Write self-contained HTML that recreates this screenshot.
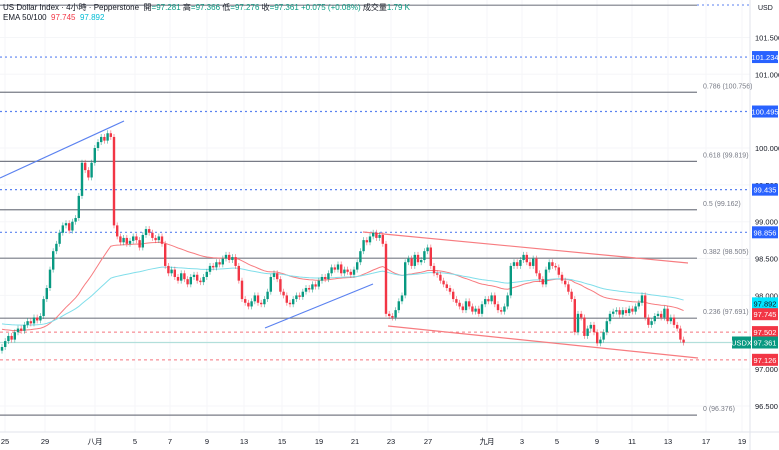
<!DOCTYPE html>
<html><head><meta charset="utf-8"><style>
body{margin:0;background:#fff;width:779px;height:450px;overflow:hidden;font-family:"Liberation Sans","Noto Sans CJK SC",sans-serif}
svg{position:absolute;left:0;top:0}
.hdr{position:absolute;left:3px;font-size:8px;color:#131722;white-space:nowrap}
</style></head><body>
<svg id="c" width="779" height="450"></svg>
<div class="hdr" style="top:2px">US Dollar Index · 4小時 · Pepperstone &nbsp;開<span style="color:#089981">=97.281</span> 高<span style="color:#089981">=97.366</span> 低<span style="color:#089981">=97.276</span> 收<span style="color:#089981">=97.361 +0.075 (+0.08%)</span> 成交量<span style="color:#089981">1.79 K</span></div>
<div class="hdr" style="top:13px">EMA 50/100 &nbsp;<span style="color:#f23645">97.745</span> &nbsp;<span style="color:#00bcd4">97.892</span></div>
<script>
const closes=[97.30,97.38,97.45,97.40,97.50,97.55,97.52,97.60,97.65,97.62,
97.70,97.66,97.72,97.95,98.10,98.35,98.60,98.70,98.85,98.95,
98.98,98.88,99.00,99.05,99.35,99.80,99.70,99.60,99.80,100.00,
100.08,100.15,100.10,100.20,100.15,98.95,98.80,98.72,98.78,98.70,
98.74,98.80,98.75,98.65,98.82,98.90,98.85,98.78,98.75,98.80,
98.70,98.40,98.30,98.35,98.25,98.20,98.30,98.22,98.15,98.25,
98.28,98.20,98.18,98.25,98.32,98.40,98.38,98.45,98.42,98.50,
98.55,98.48,98.52,98.40,98.20,97.95,97.90,97.85,97.92,98.00,
97.90,97.88,97.95,98.05,98.25,98.30,98.22,98.05,98.00,97.90,
97.88,97.95,98.00,97.98,98.05,98.10,98.08,98.15,98.12,98.20,
98.25,98.22,98.30,98.38,98.35,98.42,98.30,98.35,98.32,98.28,
98.35,98.45,98.60,98.75,98.72,98.80,98.85,98.78,98.82,98.70,
97.75,97.72,97.70,97.80,97.92,98.00,98.45,98.50,98.40,98.55,
98.45,98.48,98.60,98.65,98.40,98.30,98.28,98.20,98.15,98.10,
98.05,97.95,97.90,97.85,97.80,97.92,97.85,97.78,97.82,97.75,
97.88,97.95,97.92,98.00,97.88,97.80,97.78,97.85,98.00,98.40,
98.45,98.40,98.48,98.55,98.45,98.40,98.50,98.30,98.22,98.15,
98.35,98.45,98.40,98.38,98.28,98.20,98.15,98.05,97.95,97.50,
97.75,97.70,97.45,97.55,97.60,97.50,97.35,97.40,97.50,97.65,
97.75,97.78,97.80,97.74,97.80,97.76,97.82,97.78,97.85,97.90,
98.00,97.70,97.60,97.65,97.72,97.75,97.70,97.82,97.65,97.70,
97.60,97.55,97.40,97.36];
const xTicks=["25","29","八月","5","7","9","13","15","19","21","23","27","九月","3","5","9","11","13","17","19"];
const xTickPos=[5,45,95,135,170,207,244,282,319,355,391,428,487,522,557,597,632,668,706,742];
const yTicks=[101.5,101.0,100.0,99.5,99.0,98.5,98.0,97.0,96.5];
const fibLevels=[1,0.786,0.618,0.5,0.382,0.236,0];
const fibPrices=[101.938,100.756,99.819,99.162,98.505,97.691,96.376];
const blueLevels=[101.234,100.495,99.435,98.856];
const redLevels=[97.502,97.126];
const NS="http://www.w3.org/2000/svg";
const svg=document.getElementById('c');
const Y=p=>148+(100-p)*73.7;
const X=i=>2+i*3.2;
function el(t,a,p){const e=document.createElementNS(NS,t);for(const k in a)e.setAttribute(k,a[k]);(p||svg).appendChild(e);return e;}
xTickPos.forEach(x=>{const g=el('line',{x1:x,y1:0,x2:x,y2:432,stroke:'#f5f6f8'});});
yTicks.forEach(p=>{const g=el('line',{x1:0,y1:Y(p),x2:750,y2:Y(p),stroke:'#f5f6f8'});});
fibPrices.forEach((p,i)=>{const l=el('line',{x1:0,y1:Y(p),x2:697,y2:Y(p),stroke:'#787b86','stroke-width':1.2});
 if(i>0){const t=el('text',{x:703,y:Y(p)-4,'font-size':7,fill:'#787b86'});t.textContent=fibLevels[i]+' ('+p.toFixed(3)+')';}});
blueLevels.forEach(p=>{const l=el('line',{x1:0,y1:Y(p),x2:750,y2:Y(p),stroke:'#5b82f0','stroke-width':1.2,'stroke-dasharray':'2,3'});});
{const l=el('line',{x1:697,y1:5,x2:750,y2:5,stroke:'#5b82f0','stroke-dasharray':'2,3'});}
redLevels.forEach(p=>{const l=el('line',{x1:0,y1:Y(p),x2:750,y2:Y(p),stroke:'#f5737d','stroke-width':1,'stroke-dasharray':'3,3'});});
{const l=el('line',{x1:0,y1:Y(97.361),x2:750,y2:Y(97.361),stroke:'#b2dfdb','stroke-width':1.2});}
[[0,178,124,121,'#5b82f0'],[265,328,373,284,'#5b82f0'],[363,232,688,263,'#f77c80'],[388,326,698,358,'#f77c80']].forEach(a=>{const l=el('line',{x1:a[0],y1:a[1],x2:a[2],y2:a[3],stroke:a[4],'stroke-width':1.2});});
function ema(n,seed){let e=seed,out=[];const k=2/(n+1);closes.forEach(c=>{e=c*k+e*(1-k);out.push(e);});return out;}
[[ema(50,97.55),'#f77c80','ema-50-line'],[ema(100,97.62),'#80deea','ema-100-line']].forEach(s=>{const l=el('polyline',{points:s[0].map((v,i)=>X(i)+','+Y(v)).join(' '),fill:'none',stroke:s[1],'stroke-width':1});});
closes.forEach((c,i)=>{const o=i?closes[i-1]:c-0.05;const up=c>=o;const col=up?'#089981':'#f23645';
 const hi=Math.max(o,c)+0.04,lo=Math.min(o,c)-0.04;const x=X(i);
 const w=el('line',{x1:x,y1:Y(hi),x2:x,y2:Y(lo),stroke:col,'stroke-width':0.8,opacity:0.6});
 const b=el('rect',{x:x-1.2,y:Y(Math.max(o,c)),width:2.4,height:Math.max(1,Math.abs(Y(o)-Y(c))),fill:col});});
{const l=el('line',{x1:750,y1:0,x2:750,y2:450,stroke:'#e0e3eb'});}
{const l=el('line',{x1:0,y1:432,x2:779,y2:432,stroke:'#e0e3eb'});}
yTicks.forEach(p=>{const t=el('text',{x:755,y:Y(p)+3,'font-size':7.5,fill:'#131722'});t.textContent=p.toFixed(3);});
xTicks.forEach((s,i)=>{const t=el('text',{x:xTickPos[i],y:444,'font-size':7.5,fill:'#131722','text-anchor':'middle'});t.textContent=s;});
{const t=el('text',{x:758,y:10,'font-size':7,fill:'#131722'});t.textContent='USD';}
function tag(p,txt,bg,fg,x,w){const r=el('rect',{x:x,y:Y(p)-6,width:w,height:12,fill:bg});
 const t=el('text',{x:x+w/2,y:Y(p)+3,'font-size':7.5,fill:fg,'text-anchor':'middle'});t.textContent=txt;}
blueLevels.forEach(p=>tag(p,p.toFixed(3),'#2962ff','#fff',752,26));
tag(97.892,'97.892','#00e5ff','#131722',752,26);
tag(97.745,'97.745','#f23645','#fff',752,26);
tag(97.502,'97.502','#f23645','#fff',752,26);
tag(97.126,'97.126','#f23645','#fff',752,26);
tag(97.361,'97.361','#089981','#fff',752,26);
tag(97.361,'USDX','#089981','#fff',732,19);
</script>
</body></html>
